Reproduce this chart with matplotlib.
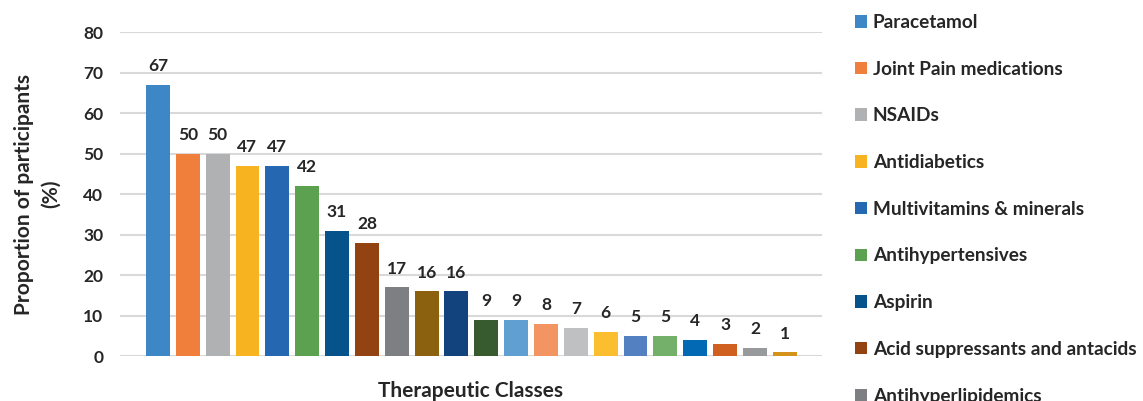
import matplotlib
matplotlib.use("Agg")
import matplotlib.pyplot as plt
from matplotlib.patches import Patch

plt.rcParams['font.family'] = ['Lato', 'DejaVu Sans']
plt.rcParams['font.weight'] = 'bold'

# therapeutic classes named in the legend (first nine bars)
classes = ["Paracetamol", "Joint Pain medications", "NSAIDs", "Antidiabetics",
           "Multivitamins & minerals", "Antihypertensives", "Aspirin",
           "Acid suppressants and antacids", "Antihyperlipidemics"]

# proportion of participants (%) for each bar
values = [67, 50, 50, 47, 47, 42, 31, 28, 17, 16, 16, 9, 9, 8, 7, 6, 5, 5, 4, 3, 2, 1]

colors = ["#3d87c6", "#f07f3c", "#b0b1b3", "#f8b420", "#2567b1", "#5ba150",
          "#06528b", "#934312", "#7e7f83", "#8b600e", "#13437d", "#375b2e",
          "#609fd2", "#f29562", "#bfc0c2", "#fbbe2e", "#5380c0", "#75b06a",
          "#0269b5", "#cf6020", "#999a9c", "#d39219"]

txt = '#262626'

fig = plt.figure(figsize=(11.43, 4.01), dpi=100)
ax = fig.add_axes([0.105, 0.112, 0.614, 0.808])

x = list(range(len(values)))
bars = ax.bar(x, values, width=0.8, color=colors, zorder=3)
for xi, v in zip(x, values):
    ax.text(xi, v + 2.6, str(v), ha='center', va='bottom', fontsize=12.5,
            fontweight='bold', color=txt)

ax.set_ylim(0, 80)
ax.set_xlim(-1.27, len(values) - 1 + 1.24)
ax.set_yticks(range(0, 81, 10))
ax.set_xticks([])
ax.yaxis.grid(True, color='#d9d9d9', linewidth=1.5, zorder=0)
for s in ax.spines.values():
    s.set_visible(False)
ax.tick_params(axis='y', length=0, pad=12, labelsize=12.5, labelcolor=txt)
for t in ax.get_yticklabels():
    t.set_fontweight('bold')

ax.set_ylabel("Proportion of participants\n(%)", fontsize=15, fontweight='bold',
              color=txt, labelpad=16, linespacing=1.45)
ax.set_xlabel("Therapeutic Classes", fontsize=15, fontweight='bold',
              color=txt, labelpad=18)

handles = [Patch(facecolor=colors[i], label=classes[i]) for i in range(len(classes))]
leg = ax.legend(handles=handles, loc='upper left', bbox_to_anchor=(0.748, 0.965),
                bbox_transform=fig.transFigure, frameon=False, fontsize=13.7,
                handlelength=0.63, handleheight=0.63, handletextpad=0.3,
                labelspacing=1.56, borderaxespad=0, borderpad=0)
for t in leg.get_texts():
    t.set_fontweight('bold')
    t.set_color(txt)

fig.savefig("out.png", dpi=100)
